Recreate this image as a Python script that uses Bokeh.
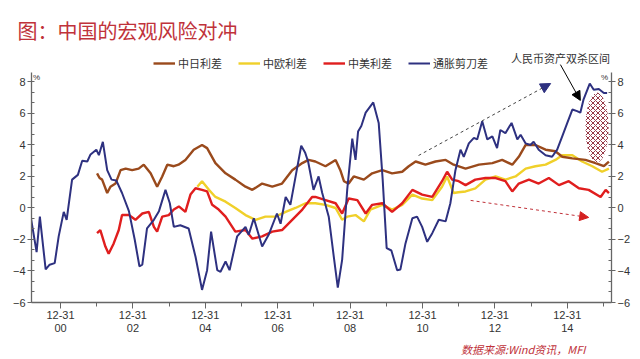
from bokeh.plotting import figure
from bokeh.models import (Range1d, LinearAxis, FixedTicker, Legend, LegendItem,
                          Label, Arrow, NormalHead, Title)
from bokeh.embed import file_html
from bokeh.resources import INLINE

# ---------------- data (decimal years, %) ----------------
cpi_ppi_x = [2000.17, 2000.34, 2000.43, 2000.59, 2000.70, 2000.84, 2000.95, 2001.09, 2001.17, 2001.32,
             2001.48, 2001.60, 2001.74, 2001.83, 2001.99, 2002.06, 2002.17, 2002.29, 2002.41, 2002.54,
             2002.70, 2002.89, 2003.05, 2003.18, 2003.26, 2003.39, 2003.58, 2003.72, 2003.90, 2004.02,
             2004.13, 2004.31, 2004.54, 2004.73, 2004.91, 2005.05, 2005.16, 2005.33, 2005.42, 2005.56,
             2005.67, 2005.88, 2006.11, 2006.20, 2006.34, 2006.57, 2006.75, 2006.98, 2007.08, 2007.22,
             2007.35, 2007.51, 2007.65, 2007.76, 2007.84, 2007.99, 2008.13, 2008.23, 2008.41, 2008.55,
             2008.66, 2008.78, 2008.92, 2009.06, 2009.15, 2009.22, 2009.31, 2009.43, 2009.64, 2009.79,
             2009.90, 2010.01, 2010.14, 2010.30, 2010.39, 2010.53, 2010.72, 2010.85, 2010.99, 2011.13,
             2011.27, 2011.45, 2011.64, 2011.77, 2011.91, 2012.05, 2012.14, 2012.28, 2012.42, 2012.51,
             2012.65, 2012.79, 2012.93, 2013.06, 2013.15, 2013.29, 2013.46, 2013.62, 2013.71, 2013.85,
             2013.98, 2014.07, 2014.21, 2014.40, 2014.58, 2014.72, 2014.86, 2015.00, 2015.14, 2015.27,
             2015.36, 2015.45, 2015.62, 2015.73, 2015.87, 2016.01, 2016.10]
cpi_ppi_y = [-0.45, -2.8, -0.55, -3.9, -3.6, -3.5, -1.8, -0.25, -0.75, 1.8,
             2.1, 3.0, 2.95, 3.4, 3.7, 3.35, 4.2, 2.4, 1.8, 1.75,
             0.95, -0.2, -2.0, -3.7, -3.6, -1.3, -0.75, -0.2, 1.15, 0.3,
             -1.2, -1.1, -1.3, -3.1, -5.2, -3.95, -1.5, -3.95, -4.05, -3.4,
             -3.95, -1.8, -1.2, -1.7, -0.65, -2.45, -1.7, -0.35, -1.0, 0.7,
             0.2, 2.2, 3.95, 3.5, 2.95, 1.15, 2.0, 0.95, -0.55, -3.1,
             -5.05, -3.3, 1.15, 4.4, 3.05, 4.85, 5.2, 6.05, 6.7, 5.4,
             1.8, -2.55, -2.7, -3.95, -3.9, -2.25, -0.65, -0.55, -1.2, -2.15,
             -1.6, -0.75, -0.85, 0.3, 2.4, 3.7, 3.25, 4.1, 4.45, 4.35,
             5.5, 4.35, 4.55, 3.8, 4.95, 4.75, 5.4, 4.35, 4.65, 4.1,
             4.0, 4.2, 3.7, 3.35, 3.25, 3.7, 4.55, 5.4, 6.25, 6.15,
             6.05, 6.9, 7.9, 7.5, 7.55, 7.3, 7.3]

cn_jp_x = [2002.01, 2002.08, 2002.15, 2002.29, 2002.38, 2002.52, 2002.66, 2002.80, 2002.98, 2003.16,
           2003.30, 2003.49, 2003.67, 2003.81, 2003.95, 2004.13, 2004.26, 2004.45, 2004.68, 2004.91,
           2005.05, 2005.28, 2005.56, 2005.83, 2006.11, 2006.30, 2006.57, 2006.85, 2007.12, 2007.40,
           2007.68, 2007.85, 2008.04, 2008.32, 2008.60, 2008.73, 2008.83, 2008.96, 2009.10, 2009.38,
           2009.61, 2009.89, 2010.16, 2010.44, 2010.62, 2010.81, 2011.08, 2011.36, 2011.64, 2011.86,
           2012.19, 2012.56, 2012.93, 2013.20, 2013.48, 2013.66, 2013.85, 2014.12, 2014.40, 2014.67,
           2014.86, 2015.14, 2015.50, 2015.78, 2016.01, 2016.15]
cn_jp_y = [2.2, 1.9, 1.8, 0.95, 1.35, 1.55, 2.4, 2.5, 2.4, 2.5,
           2.75, 2.2, 1.35, 2.0, 2.75, 2.65, 2.75, 3.05, 3.7, 4.0,
           3.8, 2.85, 2.2, 1.8, 1.35, 1.15, 1.55, 1.35, 1.55, 2.4,
           2.85, 3.05, 2.95, 2.65, 3.05, 2.4, 1.7, 1.55, 2.0, 1.8,
           2.2, 2.4, 2.2, 2.3, 2.65, 2.95, 2.75, 2.95, 3.05, 2.75,
           2.5, 2.75, 2.85, 3.05, 2.75, 3.25, 4.0, 4.0, 3.7, 3.6,
           3.25, 3.15, 3.05, 2.85, 2.65, 2.95]

cn_eu_x = [2004.78, 2004.91, 2005.10, 2005.28, 2005.56, 2005.83, 2006.11, 2006.39, 2006.66, 2006.94,
           2007.22, 2007.49, 2007.77, 2008.04, 2008.32, 2008.60, 2008.78, 2008.92, 2009.15, 2009.38,
           2009.56, 2009.89, 2010.16, 2010.44, 2010.72, 2010.99, 2011.27, 2011.54, 2011.68, 2011.86,
           2011.99, 2012.19, 2012.46, 2012.74, 2013.02, 2013.29, 2013.57, 2013.85, 2014.12, 2014.40,
           2014.67, 2014.86, 2015.14, 2015.41, 2015.69, 2015.96, 2016.15]
cn_eu_y = [1.35, 1.7, 1.15, 0.7, 0.4, 0.0, -0.45, -0.75, -0.55, -0.55,
           -0.25, 0.0, 0.3, 0.3, 0.2, 0.0, -0.75, -0.55, -0.45, -0.85,
           -0.1, 0.2, -0.1, 0.2, 0.85, 0.6, 0.5, 1.35, 2.0, 0.95,
           1.0, 1.05, 1.25, 1.8, 2.0, 1.8, 2.0, 2.5, 2.65, 2.75,
           3.05, 3.35, 3.35, 2.95, 2.65, 2.3, 2.5]

cn_us_x = [2002.01, 2002.10, 2002.24, 2002.33, 2002.47, 2002.61, 2002.70, 2002.89, 2003.07, 2003.26,
           2003.44, 2003.58, 2003.67, 2003.81, 2003.99, 2004.13, 2004.27, 2004.45, 2004.59, 2004.73,
           2004.91, 2005.05, 2005.19, 2005.37, 2005.56, 2005.83, 2006.11, 2006.30, 2006.57, 2006.85,
           2007.12, 2007.40, 2007.68, 2007.95, 2008.04, 2008.32, 2008.60, 2008.78, 2008.96, 2009.20,
           2009.43, 2009.61, 2009.89, 2010.16, 2010.44, 2010.72, 2010.99, 2011.27, 2011.54, 2011.68,
           2011.82, 2012.00, 2012.19, 2012.46, 2012.74, 2013.02, 2013.29, 2013.48, 2013.66, 2013.94,
           2014.21, 2014.49, 2014.77, 2015.04, 2015.32, 2015.59, 2015.92, 2016.06, 2016.15]
cn_us_y = [-1.6, -1.4, -2.45, -2.9, -2.25, -1.4, -0.45, -0.45, -0.75, -0.35,
           -0.25, -1.2, -1.5, -0.55, -0.45, -0.1, 0.1, -0.25, 0.85, 1.25,
           1.15, 1.05, 0.2, -0.1, -0.55, -1.5, -1.4, -1.95, -1.8, -1.5,
           -1.4, -0.75, -0.1, 0.7, 0.7, 0.5, 0.3, -0.35, 0.6, 0.5,
           -0.35, 0.2, 0.3, -0.25, 0.3, 1.15, 0.85, 0.7, 1.7, 2.3,
           1.8, 1.7, 1.45, 1.8, 1.9, 1.9, 1.7, 1.05, 1.55, 1.8,
           1.55, 1.9, 1.45, 1.7, 1.25, 1.15, 0.7, 1.15, 0.95]

x_tick_years = [2001, 2003, 2005, 2007, 2009, 2011, 2013, 2015]
x_tick_labels = ["12-31\n00", "12-31\n02", "12-31\n04", "12-31\n06",
                 "12-31\n08", "12-31\n10", "12-31\n12", "12-31\n14"]
y_ticks = [-6, -4, -2, 0, 2, 4, 6, 8]

series_names = ["中日利差", "中欧利差", "中美利差", "通胀剪刀差"]

# ---------------- figure ----------------
CJK = "Noto Sans CJK SC"
LAT = "Liberation Sans"
Y_TOP_AXIS = 8.6

p = figure(width=640, height=359, output_backend="svg", toolbar_location=None,
           x_range=Range1d(2000.199, 2016.221), y_range=Range1d(-6, 10.314),
           min_border_left=31, min_border_right=29, min_border_top=45, min_border_bottom=57,
           background_fill_color="white", border_fill_color="white", outline_line_color=None)
p.grid.visible = False
p.xaxis.visible = False
p.yaxis.visible = False

p.title = Title(text="图：中国的宏观风险对冲", text_font=CJK, text_font_size="20px",
                text_font_style="normal", text_color="#c0323a", align="left",
                offset=-14, standoff=2)


def style_axis(ax):
    ax.axis_line_color = "#666666"
    ax.axis_line_width = 1.3
    ax.major_tick_line_color = "#666666"
    ax.minor_tick_line_color = "#666666"
    ax.major_label_text_font = LAT
    ax.major_label_text_font_size = "11px"
    ax.major_label_text_color = "#333333"


minor_y = [-6 + i * 2 / 3 for i in range(22)]
for side in ("left", "right"):
    ax = LinearAxis(ticker=FixedTicker(ticks=y_ticks, minor_ticks=minor_y),
                    bounds=(-6, Y_TOP_AXIS))
    style_axis(ax)
    ax.major_tick_out = 4
    ax.major_tick_in = 0
    ax.minor_tick_in = 3
    ax.minor_tick_out = 0
    ax.major_label_standoff = 2
    p.add_layout(ax, side)

xax = LinearAxis(ticker=FixedTicker(ticks=x_tick_years,
                                    minor_ticks=[2000, 2002, 2004, 2006, 2008, 2010, 2012, 2014, 2016]))
style_axis(xax)
xax.major_label_overrides = {float(k): v for k, v in zip(x_tick_years, x_tick_labels)}
xax.major_tick_out = 6
xax.major_tick_in = 0
xax.minor_tick_out = 4
xax.minor_tick_in = 0
xax.major_label_standoff = 0
xax.major_label_text_line_height = 1.15
p.add_layout(xax, "below")

p.add_layout(Title(text="数据来源:Wind资讯，MFI", text_font=CJK, text_font_size="11px",
                   text_font_style="italic", text_color="#c0323a", align="right",
                   offset=26, standoff=2), "below")

# series
r_eu = p.line(cn_eu_x, cn_eu_y, line_color="#f0d02a", line_width=2.4)
r_us = p.line(cn_us_x, cn_us_y, line_color="#e01e1e", line_width=2.4)
r_jp = p.line(cn_jp_x, cn_jp_y, line_color="#9a4a1c", line_width=2.4)
r_cp = p.line(cpi_ppi_x, cpi_ppi_y, line_color="#2e3180", line_width=2)

# hatched ellipse
p.ellipse(x=[2015.82], y=[5.11], width=0.64, height=4.44, fill_color="white",
          line_color=None, hatch_pattern="x", hatch_color="#8b2030", hatch_scale=5,
          hatch_weight=0.9)

legend = Legend(items=[LegendItem(label=n, renderers=[r]) for n, r in
                       zip(series_names, [r_jp, r_eu, r_us, r_cp])],
                orientation="horizontal", location=(122, 229),
                padding=0, margin=0, spacing=16, label_width=44, glyph_width=22,
                glyph_height=20, label_standoff=3, border_line_color=None,
                background_fill_alpha=0, label_text_font=CJK,
                label_text_font_size="11px", label_text_color="#333333")
p.add_layout(legend, "center")

# annotations
p.add_layout(Label(x=2014.81, y=9.55, text="人民币资产双杀区间", text_font=CJK,
                   text_font_size="11px", text_color="#333333", text_align="center",
                   text_baseline="middle"))
for xx in (2000.34, 2016.03):
    p.add_layout(Label(x=xx, y=Y_TOP_AXIS, text="%", text_font=LAT, text_font_size="8px",
                       text_color="#333333", text_align="center", text_baseline="top"))

p.add_layout(Arrow(x_start=2010.89, y_start=3.33, x_end=2014.54, y_end=7.9,
                   line_color="#444444", line_width=1, line_dash="3 3",
                   end=NormalHead(size=10, fill_color="#2e3180", line_color="#2e3180")))
p.add_layout(Arrow(x_start=2012.33, y_start=0.48, x_end=2015.59, y_end=-0.6,
                   line_color="#c0323a", line_width=1, line_dash="3 3",
                   end=NormalHead(size=9, fill_color="#d42020", line_color="#d42020")))
p.add_layout(Arrow(x_start=2014.81, y_start=9.1, x_end=2015.36, y_end=6.83,
                   line_color="#000000", line_width=1,
                   end=NormalHead(size=9, fill_color="#000000", line_color="#000000")))

open("out.html", "w").write(file_html(p, INLINE))
